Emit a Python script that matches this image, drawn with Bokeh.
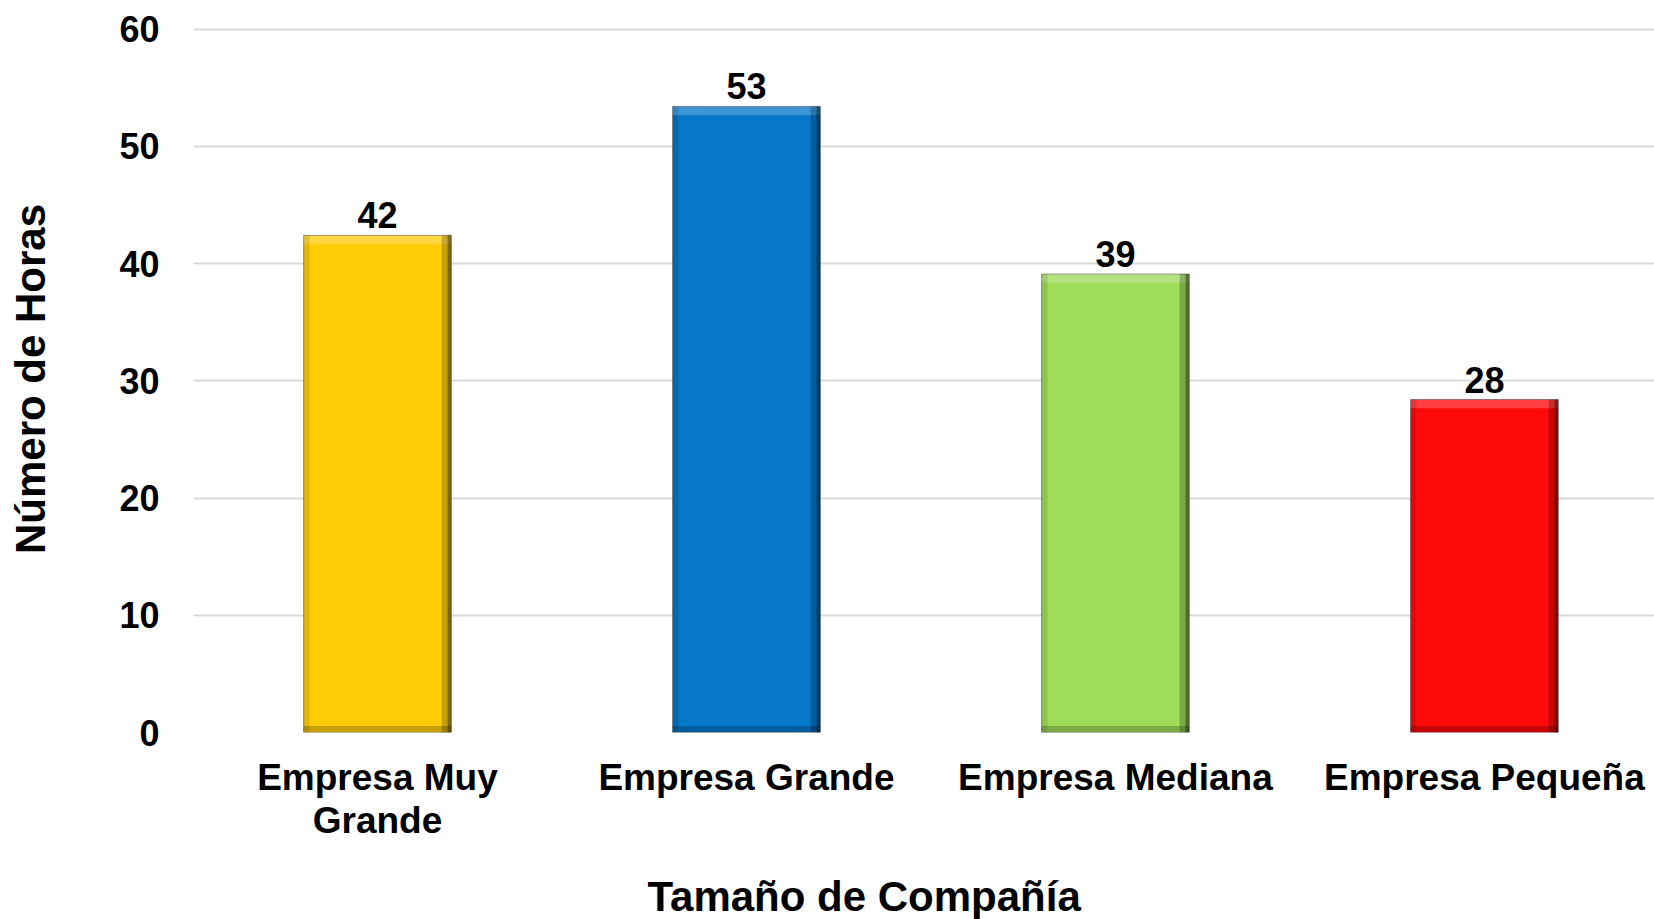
from bokeh.plotting import figure
from bokeh.models import Range1d, FixedTicker, Title, ColumnDataSource
from bokeh.core.properties import value
from bokeh.embed import file_html
from bokeh.resources import INLINE

# ---- data ----
categories = ["Empresa Muy\nGrande", "Empresa Grande", "Empresa Mediana", "Empresa Pequeña"]
horas = [42.4, 53.4, 39.1, 28.4]
colores = ["#FFCC08", "#0677C9", "#9EDC5A", "#FF0A0A"]
y_ticks = [0, 10, 20, 30, 40, 50, 60]
x_title = "Tamaño de Compañía"
y_title = "Número de Horas"

FONT = "Liberation Sans"
pos = list(range(len(categories)))
labels = ["{:.0f}".format(v) for v in horas]
zeros = [0] * len(horas)

BW = 0.40
src = ColumnDataSource(dict(x=pos, top=horas, color=colores, label=labels, zero=zeros))

p = figure(width=1654, height=919, output_backend="svg", toolbar_location=None,
           x_range=Range1d(-0.4986, 3.461), y_range=Range1d(0, 60.3),
           min_border_left=193, min_border_right=0, min_border_top=25, min_border_bottom=187)
p.outline_line_color = None
p.background_fill_color = "white"
p.border_fill_color = "white"

# bars
p.vbar(x="x", top="top", bottom=0, width=BW, fill_color="color",
       line_color="#3a3a3a", line_alpha=0.55, line_width=1, source=src)

# bevel-like shading derived from the bar data
sh = ColumnDataSource(dict(
    xr=[x + BW / 2 - 0.013 for x in pos],
    xr2=[x + BW / 2 - 0.005 for x in pos],
    xl=[x - BW / 2 + 0.008 for x in pos],
    x=pos,
    top=horas,
    top_hl=[v - 0.75 for v in horas],
    zero=zeros,
    bot=[0.55] * len(horas),
))
p.vbar(x="x", top="top", bottom="top_hl", width=BW, fill_color="white", fill_alpha=0.22,
       line_color=None, source=sh)
p.vbar(x="x", top="bot", bottom="zero", width=BW, fill_color="black", fill_alpha=0.22,
       line_color=None, source=sh)
p.vbar(x="xr", top="top", bottom="zero", width=0.026, fill_color="black", fill_alpha=0.22,
       line_color=None, source=sh)
p.vbar(x="xr2", top="top", bottom="zero", width=0.010, fill_color="black", fill_alpha=0.35,
       line_color=None, source=sh)
p.vbar(x="xl", top="top", bottom="zero", width=0.016, fill_color="black", fill_alpha=0.10,
       line_color=None, source=sh)

# value labels
p.text(x="x", y="top", text="label", source=src, text_align="center",
       text_baseline="alphabetic", y_offset=-20,
       text_font=value(FONT), text_font_style="bold", text_font_size="36px",
       text_color="black")

# axes
p.xaxis.ticker = FixedTicker(ticks=pos)
p.xaxis.major_label_overrides = {i: c for i, c in zip(pos, categories)}
p.xaxis.major_label_text_font = FONT
p.xaxis.major_label_text_font_style = "bold"
p.xaxis.major_label_text_font_size = "37px"
p.xaxis.major_label_text_line_height = 1.06
p.xaxis.major_label_text_color = "black"
p.xaxis.major_label_standoff = 24
p.xaxis.axis_line_color = None
p.xaxis.major_tick_line_color = None
p.xaxis.minor_tick_line_color = None
p.xaxis.major_tick_out = 0
p.xaxis.major_tick_in = 0

p.yaxis.ticker = FixedTicker(ticks=y_ticks)
p.yaxis.major_label_text_font = FONT
p.yaxis.major_label_text_font_style = "bold"
p.yaxis.major_label_text_font_size = "36px"
p.yaxis.major_label_text_color = "black"
p.yaxis.major_label_standoff = 34
p.yaxis.axis_line_color = None
p.yaxis.major_tick_line_color = None
p.yaxis.minor_tick_line_color = None
p.yaxis.major_tick_out = 0
p.yaxis.major_tick_in = 0
p.yaxis.axis_label = y_title
p.yaxis.axis_label_text_font = FONT
p.yaxis.axis_label_text_font_style = "bold"
p.yaxis.axis_label_text_font_size = "42px"
p.yaxis.axis_label_text_color = "black"
p.yaxis.axis_label_standoff = 62

p.xgrid.grid_line_color = None
p.ygrid.grid_line_color = "#D9D9D9"
p.ygrid.grid_line_width = 2

p.add_layout(Title(text=x_title, align="left", offset=454, standoff=0,
                   padding=dict(left=0, right=0, top=27, bottom=0),
                   text_font=FONT, text_font_style="bold", text_font_size="42px",
                   text_color="black"), "below")

open("out.html", "w").write(file_html(p, INLINE))
